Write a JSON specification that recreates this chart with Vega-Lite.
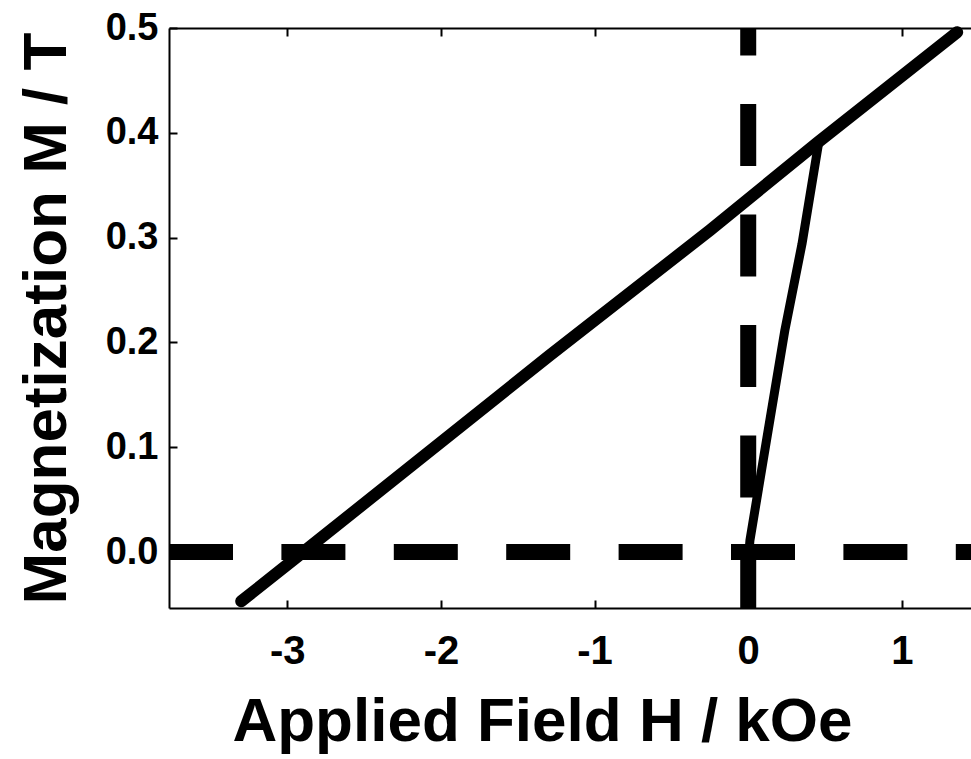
{
  "$schema": "https://vega.github.io/schema/vega-lite/v6.json",
  "width": 802,
  "height": 580,
  "autosize": {"type": "none"},
  "padding": {"left": 169, "top": 28, "right": 0, "bottom": 151},
  "background": "white",
  "config": {
    "view": {"stroke": null},
    "axis": {
      "labelFont": "Liberation Sans",
      "titleFont": "Liberation Sans",
      "labelFontWeight": "bold",
      "titleFontWeight": "bold",
      "labelColor": "black",
      "titleColor": "black",
      "domainColor": "black",
      "tickColor": "black",
      "grid": false,
      "domainWidth": 2,
      "tickWidth": 2
    }
  },
  "datasets": {
    "main": [
      {"H": -3.3, "M": -0.047},
      {"H": -2.896, "M": 0.0},
      {"H": -1.289, "M": 0.188},
      {"H": -0.249, "M": 0.307},
      {"H": 0.454, "M": 0.391},
      {"H": 1.36, "M": 0.496}
    ],
    "minor": [
      {"H": 0.005, "M": 0.0},
      {"H": 0.011, "M": 0.011},
      {"H": 0.125, "M": 0.112},
      {"H": 0.239, "M": 0.212},
      {"H": 0.35, "M": 0.294},
      {"H": 0.46, "M": 0.392}
    ],
    "zero": [{"M": 0, "Hmin": -3.77, "Hmax": 1.45}]
  },
  "layer": [
    {
      "data": {"name": "zero"},
      "mark": {"type": "rule", "color": "black", "strokeWidth": 16, "strokeDash": [64, 48.4], "strokeCap": "butt"},
      "encoding": {
        "x": {"field": "Hmin", "type": "quantitative", "scale": {"domain": [-3.77, 1.45], "nice": false, "zero": false}, "axis": null},
        "x2": {"field": "Hmax"},
        "y": {
          "field": "M", "type": "quantitative",
          "scale": {"domain": [-0.0534, 0.5], "nice": false, "zero": false},
          "axis": {"title": "Magnetization M / T", "titleFontSize": 62, "labelFontSize": 38,
                   "values": [0, 0.1, 0.2, 0.3, 0.4, 0.5], "format": ".1f", "tickSize": -8,
                   "labelPadding": 19, "titleAngle": -90, "titleBaseline": "alphabetic",
                   "titleX": -104, "titleY": 290}
        }
      }
    },
    {
      "data": {"name": "zero"},
      "mark": {"type": "rule", "color": "black", "strokeWidth": 16, "strokeDash": [62, 48.5], "strokeCap": "butt"},
      "encoding": {
        "x": {"datum": 0, "type": "quantitative", "scale": {"domain": [-3.77, 1.45], "nice": false, "zero": false}, "axis": null},
        "y": {"datum": -0.0534, "type": "quantitative"},
        "y2": {"datum": 0.5}
      }
    },
    {
      "data": {"name": "main"},
      "mark": {"type": "line", "color": "black", "strokeWidth": 12, "strokeCap": "round", "strokeJoin": "round"},
      "encoding": {
        "x": {
          "field": "H", "type": "quantitative",
          "scale": {"domain": [-3.77, 1.45], "nice": false, "zero": false},
          "axis": {"orient": "bottom", "title": "Applied Field H / kOe", "titleFontSize": 62, "labelFontSize": 40,
                   "values": [-3, -2, -1, 0, 1], "labelExpr": "'' + datum.value", "tickSize": -8, "labelPadding": 31,
                   "titleBaseline": "alphabetic", "titleX": 373, "titleY": 132}
        },
        "y": {"field": "M", "type": "quantitative"},
        "order": {"field": "H", "type": "quantitative"}
      }
    },
    {
      "data": {"name": "minor"},
      "mark": {"type": "line", "color": "black", "strokeWidth": 9, "strokeCap": "round", "strokeJoin": "round"},
      "encoding": {
        "x": {
          "field": "H", "type": "quantitative",
          "scale": {"domain": [-3.77, 1.45], "nice": false, "zero": false},
          "axis": {"orient": "top", "title": null, "labels": false, "values": [-3, -2, -1, 0, 1], "tickSize": -8}
        },
        "y": {"field": "M", "type": "quantitative"},
        "order": {"field": "H", "type": "quantitative"}
      }
    }
  ],
  "resolve": {"axis": {"x": "independent"}}
}
